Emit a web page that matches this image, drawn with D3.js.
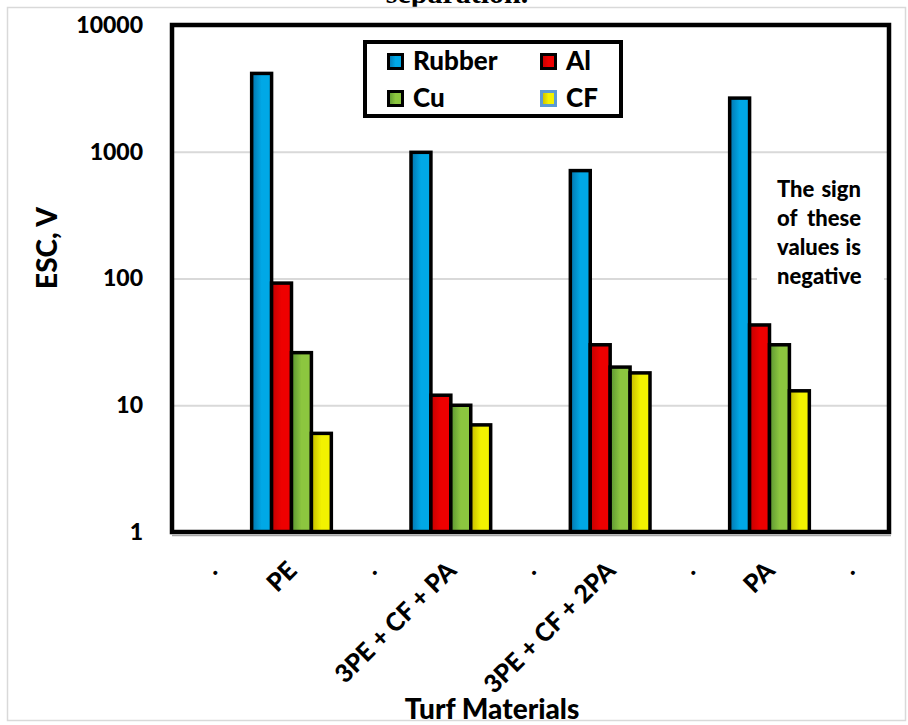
<!DOCTYPE html>
<html>
<head>
<meta charset="utf-8">
<script src="https://cdn.jsdelivr.net/npm/d3@7"></script>
<style>
  html, body { margin: 0; padding: 0; background: #fff; }
  svg { display: block; }
  text { font-family: Lato, "Open Sans", sans-serif; font-weight: 900; fill: #000; }
</style>
</head>
<body>
<svg id="chart" width="908" height="725"></svg>
<script>
// Categories along the x axis (the "." slots are empty spacer categories)
const categories = [".", "PE", ".", "3PE + CF + PA", ".", "3PE + CF + 2PA", ".", "PA", "."];
const seriesNames = ["Rubber", "Al", "Cu", "CF"];
// Electrostatic charge magnitude, V
const rubberValues = [null, 4150, null, 990, null, 710, null, 2650, null];
const alValues     = [null, 92,   null, 12,  null, 30,  null, 43,   null];
const cuValues     = [null, 26,   null, 10,  null, 20,  null, 30,   null];
const cfValues     = [null, 6,    null, 7,   null, 18,  null, 13,   null];
const yTickValues  = [1, 10, 100, 1000, 10000];
const gridValues   = [10, 100, 1000];
const noteLines    = [["The", "sign"], ["of", "these"], ["values", "is"], ["negative"]];

const seriesValues = [rubberValues, alValues, cuValues, cfValues];
const palette = {
  Rubber: { dark: "#0474ac", bright: "#00a8e6", edge: "#000" },
  Al:     { dark: "#c20000", bright: "#ee0000", edge: "#000" },
  Cu:     { dark: "#5a9432", bright: "#8cc63f", edge: "#000" },
  CF:     { dark: "#c4b800", bright: "#f2f200", edge: "#5b9bd5" }
};

const svg = d3.select("#chart");

// Chart title (mostly hidden above the chart area)
svg.append("text")
  .attr("x", 457).attr("y", 3)
  .attr("text-anchor", "middle")
  .style("font-family", "'Liberation Serif', 'Times New Roman', serif")
  .style("font-weight", 700)
  .style("font-size", "30px")
  .text("separation.");

// Chart area
svg.append("rect")
  .attr("x", 7.5).attr("y", 7.5).attr("width", 898).attr("height", 713)
  .attr("fill", "#fff").attr("stroke", "#d9d9d9").attr("stroke-width", 1.5);

// Gradients for bar fills
const defs = svg.append("defs");
seriesNames.forEach(name => {
  const g = defs.append("linearGradient").attr("id", "grad-" + name)
    .attr("x1", 0).attr("x2", 1).attr("y1", 0).attr("y2", 0);
  g.append("stop").attr("offset", "0%").attr("stop-color", palette[name].dark);
  g.append("stop").attr("offset", "50%").attr("stop-color", palette[name].bright);
  g.append("stop").attr("offset", "100%").attr("stop-color", palette[name].bright);
});

const plot = { left: 172, right: 889, top: 25, bottom: 532 };

const x = d3.scaleBand()
  .domain(d3.range(categories.length))
  .range([plot.left, plot.right])
  .padding(0);
const xs = d3.scaleBand().domain(seriesNames).range([0, x.bandwidth()]).padding(0);
const y = d3.scaleLog().domain([1, 10000]).range([plot.bottom, plot.top]);

// Gridlines
svg.append("g")
  .attr("transform", `translate(${plot.left},0)`)
  .call(d3.axisLeft(y).tickValues(gridValues).tickSize(-(plot.right - plot.left)).tickFormat(""))
  .call(g => g.select(".domain").remove())
  .call(g => g.selectAll("line").attr("stroke", "#d9d9d9").attr("stroke-width", 2));

// Bars
const groups = svg.append("g").selectAll("g")
  .data(seriesNames)
  .join("g")
  .attr("fill", d => `url(#grad-${d})`);

groups.each(function(name, si) {
  const vals = seriesValues[si];
  d3.select(this).selectAll("rect")
    .data(vals.map((v, i) => ({ v, i })).filter(d => d.v != null))
    .join("rect")
    .attr("x", d => x(d.i) + xs(name))
    .attr("y", d => y(d.v))
    .attr("width", xs.bandwidth())
    .attr("height", d => y(1) - y(d.v))
    .attr("stroke", "#000")
    .attr("stroke-width", 3.5)
    .attr("stroke-linejoin", "miter");
});

// Note box
const note = svg.append("g");
note.append("rect")
  .attr("x", 757).attr("y", 172).attr("width", 127).attr("height", 124)
  .attr("fill", "#fff");
noteLines.forEach((words, li) => {
  const by = 197 + li * 29;
  note.append("text").attr("x", 777).attr("y", by)
    .attr("text-anchor", "start").style("font-size", "22px").text(words[0]);
  if (words.length > 1) {
    note.append("text").attr("x", 861).attr("y", by)
      .attr("text-anchor", "end").style("font-size", "22px").text(words[1]);
  }
});

// Plot frame
svg.append("rect")
  .attr("x", plot.left).attr("y", plot.top)
  .attr("width", plot.right - plot.left).attr("height", plot.bottom - plot.top)
  .attr("fill", "none").attr("stroke", "#000").attr("stroke-width", 4.5);
svg.append("line")
  .attr("x1", plot.left).attr("x2", plot.right + 2)
  .attr("y1", plot.bottom + 3.5).attr("y2", plot.bottom + 3.5)
  .attr("stroke", "#a6a6a6").attr("stroke-width", 1.5);

// Y axis labels
svg.append("g")
  .attr("transform", `translate(${plot.left},0)`)
  .call(d3.axisLeft(y).tickValues(yTickValues).tickSize(0).tickPadding(29).tickFormat(d3.format("d")))
  .call(g => g.select(".domain").remove())
  .call(g => g.selectAll("text")
    .style("font-family", "Lato, sans-serif").style("font-weight", 900)
    .style("font-size", "23px").attr("fill", "#000"));

// X axis labels
svg.append("g")
  .attr("transform", `translate(0,${plot.bottom})`)
  .call(d3.axisBottom(x).tickSize(0).tickFormat(i => categories[i]))
  .call(g => g.select(".domain").remove())
  .call(g => g.selectAll("text")
    .attr("x", 0).attr("y", 0).attr("dy", null)
    .attr("text-anchor", "end")
    .attr("transform", "translate(7,40) rotate(-45)")
    .style("font-family", "Lato, sans-serif").style("font-weight", 900)
    .style("font-size", "25px").attr("fill", "#000"));

// Axis titles
svg.append("text")
  .attr("transform", "translate(57,248) rotate(-90)")
  .attr("text-anchor", "middle")
  .style("font-size", "28px")
  .text("ESC, V");
svg.append("text")
  .attr("x", 492).attr("y", 719)
  .attr("text-anchor", "middle")
  .style("font-size", "28px")
  .text("Turf Materials");

// Legend
const legend = svg.append("g");
legend.append("rect")
  .attr("x", 365).attr("y", 42).attr("width", 256).attr("height", 74)
  .attr("fill", "#fff").attr("stroke", "#000").attr("stroke-width", 4);
const legendPos = [[387, 53], [540, 53], [387, 90], [540, 90]];
seriesNames.forEach((name, i) => {
  const [lx, ly] = legendPos[i];
  legend.append("rect")
    .attr("x", lx + 1.5).attr("y", ly + 1.5).attr("width", 14).attr("height", 14)
    .attr("fill", `url(#grad-${name})`)
    .attr("stroke", palette[name].edge).attr("stroke-width", 3);
  legend.append("text")
    .attr("x", lx + 26).attr("y", ly + 16.5)
    .style("font-size", "26px")
    .text(name);
});
</script>
</body>
</html>
